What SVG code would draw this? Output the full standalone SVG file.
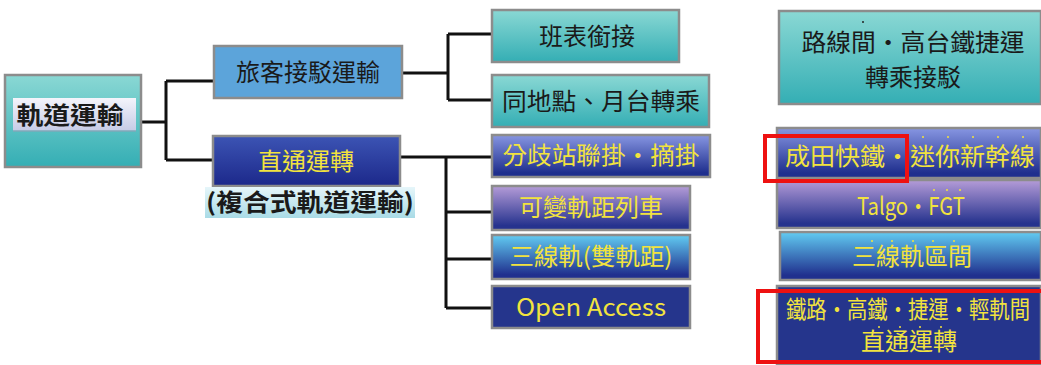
<svg xmlns="http://www.w3.org/2000/svg" width="1041" height="365" viewBox="0 0 1041 365">
<defs>
<linearGradient id="teal" x1="0" y1="0" x2="0" y2="1"><stop offset="0" stop-color="#8ad8d4"/><stop offset="1" stop-color="#34aeb4"/></linearGradient>
<linearGradient id="navy" x1="0" y1="0" x2="0" y2="1"><stop offset="0" stop-color="#3c54b4"/><stop offset="1" stop-color="#1c288a"/></linearGradient>
<linearGradient id="blueTop" x1="0" y1="0" x2="0" y2="1"><stop offset="0" stop-color="#8796e2"/><stop offset="0.9" stop-color="#1f2f8e"/></linearGradient>
<linearGradient id="lav" x1="0" y1="0" x2="0" y2="1"><stop offset="0" stop-color="#b59cd8"/><stop offset="0.9" stop-color="#26338e"/></linearGradient>
<linearGradient id="sky" x1="0" y1="0" x2="0" y2="1"><stop offset="0" stop-color="#62ccf2"/><stop offset="0.9" stop-color="#20308e"/></linearGradient>
<linearGradient id="bar" x1="0" y1="0" x2="0" y2="1"><stop offset="0" stop-color="#f4f4fb"/><stop offset="1" stop-color="#c6cbe6"/></linearGradient>
<linearGradient id="bar2" x1="0" y1="0" x2="0" y2="1"><stop offset="0" stop-color="#e6f6fa"/><stop offset="1" stop-color="#a9dbe6"/></linearGradient>
</defs>
<style>
.box{stroke:#8c8c8c;stroke-width:2.5}
.t{font-family:"Noto Sans CJK TC","Noto Sans CJK SC",sans-serif;font-size:24px;text-anchor:middle}
.dk{fill:#1a1a1a}
.yl{fill:#f2e33e}
.c{fill:none;stroke:#111;stroke-width:3}
.red{fill:none;stroke:#ee1111;stroke-width:4}
.dot{fill:#f2e33e}
</style>
<g id="connectors">
<path class="c" d="M141 122H166M166 81V160M166 81H214M166 160H213"/>
<path class="c" d="M402 73H448M448 34V100M448 34H492M448 100H492"/>
<path class="c" d="M400 157H492M446 157V308M446 212H492M446 259H492M446 308H492"/>
</g>
<g id="root">
<rect class="box" x="5" y="75" width="136" height="92" fill="url(#teal)"/>
<rect x="13" y="98" width="123" height="33" fill="url(#bar)"/>
<line x1="13" y1="131" x2="136" y2="131" stroke="#7fa9b8" stroke-width="1.5"/>
<text class="t dk" x="70" y="124" font-size="26" font-weight="bold" textLength="107" lengthAdjust="spacingAndGlyphs">軌道運輸</text>
</g>
<g id="n-passenger">
<rect class="box" x="214" y="46" width="188" height="52" fill="#5ca4da"/>
<text class="t dk" x="308" y="81">旅客接駁運輸</text>
</g>
<g id="n-through">
<rect class="box" x="213" y="136" width="187" height="50" fill="url(#navy)"/>
<text class="t yl" x="306" y="170">直通運轉</text>
<rect x="205" y="187" width="210" height="31" fill="url(#bar2)"/>
<text class="t dk" x="310" y="211" font-weight="bold" textLength="208" lengthAdjust="spacingAndGlyphs">(複合式軌道運輸)</text>
</g>
<g id="n-timetable">
<rect class="box" x="492" y="10" width="187" height="52" fill="url(#teal)"/>
<text class="t dk" x="587" y="45">班表銜接</text>
</g>
<g id="n-samesite">
<rect class="box" x="492" y="75" width="217" height="52" fill="url(#teal)"/>
<text class="t dk" x="601" y="110" textLength="198" lengthAdjust="spacingAndGlyphs">同地點、月台轉乘</text>
</g>
<g id="n-branch">
<rect class="box" x="492" y="135" width="218" height="42" fill="url(#blueTop)"/>
<text class="t yl" x="601" y="164" textLength="197" lengthAdjust="spacingAndGlyphs">分歧站聯掛・摘掛</text>
</g>
<g id="n-gauge">
<rect class="box" x="492" y="186" width="198" height="44" fill="url(#lav)"/>
<text class="t yl" x="591" y="216">可變軌距列車</text>
</g>
<g id="n-three">
<rect class="box" x="492" y="235" width="198" height="44" fill="url(#sky)"/>
<text class="t yl" x="591" y="265" textLength="163" lengthAdjust="spacingAndGlyphs">三線軌(雙軌距)</text>
</g>
<g id="n-open">
<rect class="box" x="492" y="286" width="198" height="42" fill="#25358c"/>
<text class="t yl" x="591" y="316" font-family="'Open Sans',sans-serif" font-size="25" textLength="150" lengthAdjust="spacingAndGlyphs">Open Access</text>
</g>
<g id="n-transfer">
<rect class="box" x="779" y="11" width="262" height="93" fill="url(#teal)"/>
<circle cx="863" cy="22" r="1" fill="#222"/>
<text class="t dk" x="913" y="51" textLength="223" lengthAdjust="spacingAndGlyphs">路線間・高台鐵捷運</text>
<text class="t dk" x="913" y="86">轉乘接駁</text>
</g>
<g id="n-narita">
<rect class="box" x="777" y="128" width="264" height="50" fill="url(#blueTop)"/>
<g class="dot"><circle cx="923" cy="137" r="1"/><circle cx="948" cy="137" r="1"/><circle cx="973" cy="137" r="1"/><circle cx="998" cy="137" r="1"/><circle cx="1023" cy="137" r="1"/></g>
<text class="t yl" x="910" y="165" textLength="250" lengthAdjust="spacingAndGlyphs">成田快鐵・迷你新幹線</text>
</g>
<g id="n-talgo">
<rect class="box" x="777" y="180" width="264" height="48" fill="url(#lav)"/>
<g class="dot"><circle cx="934" cy="190" r="1"/><circle cx="947" cy="190" r="1"/><circle cx="960" cy="190" r="1"/></g>
<text class="t yl" x="911" y="215" font-family="'Open Sans',sans-serif" font-size="20" textLength="108" lengthAdjust="spacingAndGlyphs">Talgo・FGT</text>
</g>
<g id="n-three-sec">
<rect class="box" x="780" y="232" width="261" height="48" fill="url(#sky)"/>
<g class="dot"><circle cx="872" cy="241" r="1"/><circle cx="892" cy="241" r="1"/><circle cx="913" cy="241" r="1"/><circle cx="933" cy="241" r="1"/><circle cx="954" cy="241" r="1"/></g>
<text class="t yl" x="912" y="265" font-size="20">三線軌區間</text>
</g>
<g id="n-through-all">
<rect class="box" x="777" y="286" width="264" height="78" fill="#25358c"/>
<g class="dot"><circle cx="879" cy="327" r="1"/><circle cx="900" cy="327" r="1"/><circle cx="920" cy="327" r="1"/><circle cx="941" cy="327" r="1"/></g>
<text class="t yl" x="908" y="318" font-size="20" textLength="244" lengthAdjust="spacingAndGlyphs">鐵路・高鐵・捷運・輕軌間</text>
<text class="t yl" x="909" y="350" font-size="20">直通運轉</text>
</g>
<g id="highlights">
<rect class="red" x="765" y="136" width="142" height="45"/>
<rect class="red" x="758" y="291" width="290" height="71"/>
</g>
</svg>
